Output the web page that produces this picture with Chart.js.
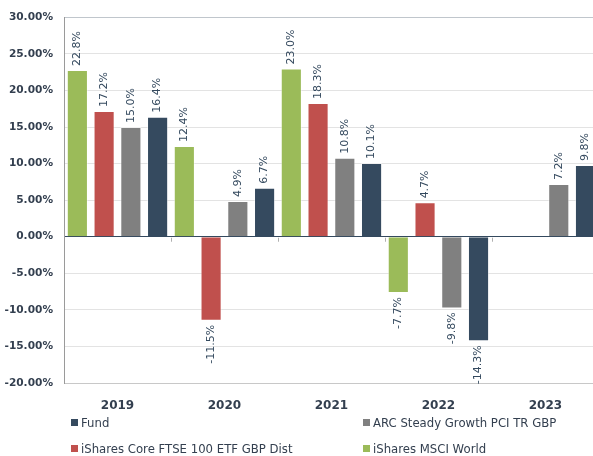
<!DOCTYPE html>
<html>
<head>
<meta charset="utf-8">
<script src="https://cdn.jsdelivr.net/npm/chart.js@4.4.1/dist/chart.umd.min.js"></script>
<style>
  body { margin: 0; background: #fff; overflow: hidden; }
  #wrap { position: relative; width: 593px; height: 456px; }
  .leg { position: absolute; font: 11.7px "DejaVu Sans", sans-serif; color: #333f4f; white-space: nowrap; line-height: 14px; }
  .leg span { display: inline-block; width: 7px; height: 7px; margin-right: 3px; vertical-align: 1px; }
</style>
</head>
<body>
<div id="wrap">
  <canvas id="myChart" width="593" height="456"></canvas>
  <div class="leg" style="left:71px;top:416px"><span style="background:#354a5f"></span>Fund</div>
  <div class="leg" style="left:363px;top:416px"><span style="background:#808080"></span>ARC Steady Growth PCI TR GBP</div>
  <div class="leg" style="left:71px;top:442px"><span style="background:#c0504d"></span>iShares Core FTSE 100 ETF GBP Dist</div>
  <div class="leg" style="left:363px;top:442px"><span style="background:#9bbb59"></span>iShares MSCI World</div>
</div>
<script>
var years = ['2019', '2020', '2021', '2022', '2023']
var msciWorld = [22.8, 12.4, 23.0, -7.7, null]
var ftse100 = [17.2, -11.5, 18.3, 4.7, null]
var arcSteady = [15.0, 4.9, 10.8, -9.8, 7.2]
var fund = [16.4, 6.7, 10.1, -14.3, 9.8]

function points(values) {
  return values.map(function (v, i) { return { x: i, y: v } })
}

// rotated value labels above / below each bar
const barLabels = {
  id: 'barLabels',
  afterDatasetsDraw(chart) {
    const c = chart.ctx
    c.save()
    c.font = '11px "DejaVu Sans", sans-serif'
    c.fillStyle = '#34495e'
    c.textBaseline = 'middle'
    chart.data.datasets.forEach(function (ds, di) {
      chart.getDatasetMeta(di).data.forEach(function (bar, i) {
        var v = ds.data[i].y
        if (v === null) return
        c.save()
        if (v >= 0) {
          c.translate(bar.x, bar.y - 4)
          c.rotate(-Math.PI / 2)
          c.textAlign = 'left'
        } else {
          c.translate(bar.x, bar.y + 4)
          c.rotate(-Math.PI / 2)
          c.textAlign = 'right'
        }
        c.fillText(v.toFixed(1) + '%', 0, 0)
        c.restore()
      })
    })
    // small ticks under the zero line between the years
    const xs = chart.scales.x, ys = chart.scales.y
    var y0 = ys.getPixelForValue(0)
    c.strokeStyle = '#b0b0b0'
    c.lineWidth = 1
    for (var i = 0; i < years.length - 1; i++) {
      var x = Math.round(xs.getPixelForValue(i + 0.5)) + 0.5
      c.beginPath()
      c.moveTo(x, y0 + 1)
      c.lineTo(x, y0 + 5)
      c.stroke()
    }
    c.restore()
  }
}

const ctx = document.getElementById('myChart')
var a = new Chart(ctx, {
  type: 'bar',
  data: {
    datasets: [
      { label: 'iShares MSCI World', data: points(msciWorld), backgroundColor: '#9bbb59' },
      { label: 'iShares Core FTSE 100 ETF GBP Dist', data: points(ftse100), backgroundColor: '#c0504d' },
      { label: 'ARC Steady Growth PCI TR GBP', data: points(arcSteady), backgroundColor: '#808080' },
      { label: 'Fund', data: points(fund), backgroundColor: '#354a5f' }
    ]
  },
  options: {
    responsive: false,
    animation: false,
    layout: { padding: { left: 0, right: 0, top: 17, bottom: 43 } },
    datasets: {
      bar: {
        categoryPercentage: 1.0,
        barPercentage: 0.79,
        borderWidth: 1,
        borderColor: 'rgba(255,255,255,0.45)'
      }
    },
    plugins: {
      legend: { display: false },
      tooltip: { enabled: false }
    },
    scales: {
      x: {
        type: 'linear',
        offset: false,
        min: -0.5,
        max: 4.445,
        grid: { display: false },
        border: { display: false },
        afterBuildTicks: function (s) {
          s.ticks = years.map(function (y, i) { return { value: i } })
        },
        afterFit: function (s) { s.height = 30 },
        ticks: {
          autoSkip: false,
          maxRotation: 0,
          padding: 8,
          color: '#333f4f',
          font: { family: 'DejaVu Sans', size: 12, weight: 'bold' },
          callback: function (v) { return years[v] }
        }
      },
      y: {
        min: -20,
        max: 30,
        afterFit: function (s) { s.width = 64 },
        grid: {
          drawTicks: false,
          color: function (c) {
            if (c.tick.value === 0) return '#34495e'
            if (c.tick.value === 30) return '#c0c6cc'
            if (c.tick.value === -20) return '#c8c8c8'
            return '#e3e3e3'
          }
        },
        border: { color: '#9a9a9a' },
        ticks: {
          stepSize: 5,
          padding: 11,
          color: '#333f4f',
          font: { family: 'DejaVu Sans', size: 10.6, weight: 'bold' },
          callback: function (v) { return v.toFixed(2) + '%' }
        }
      }
    }
  },
  plugins: [barLabels]
})
</script>
</body>
</html>
